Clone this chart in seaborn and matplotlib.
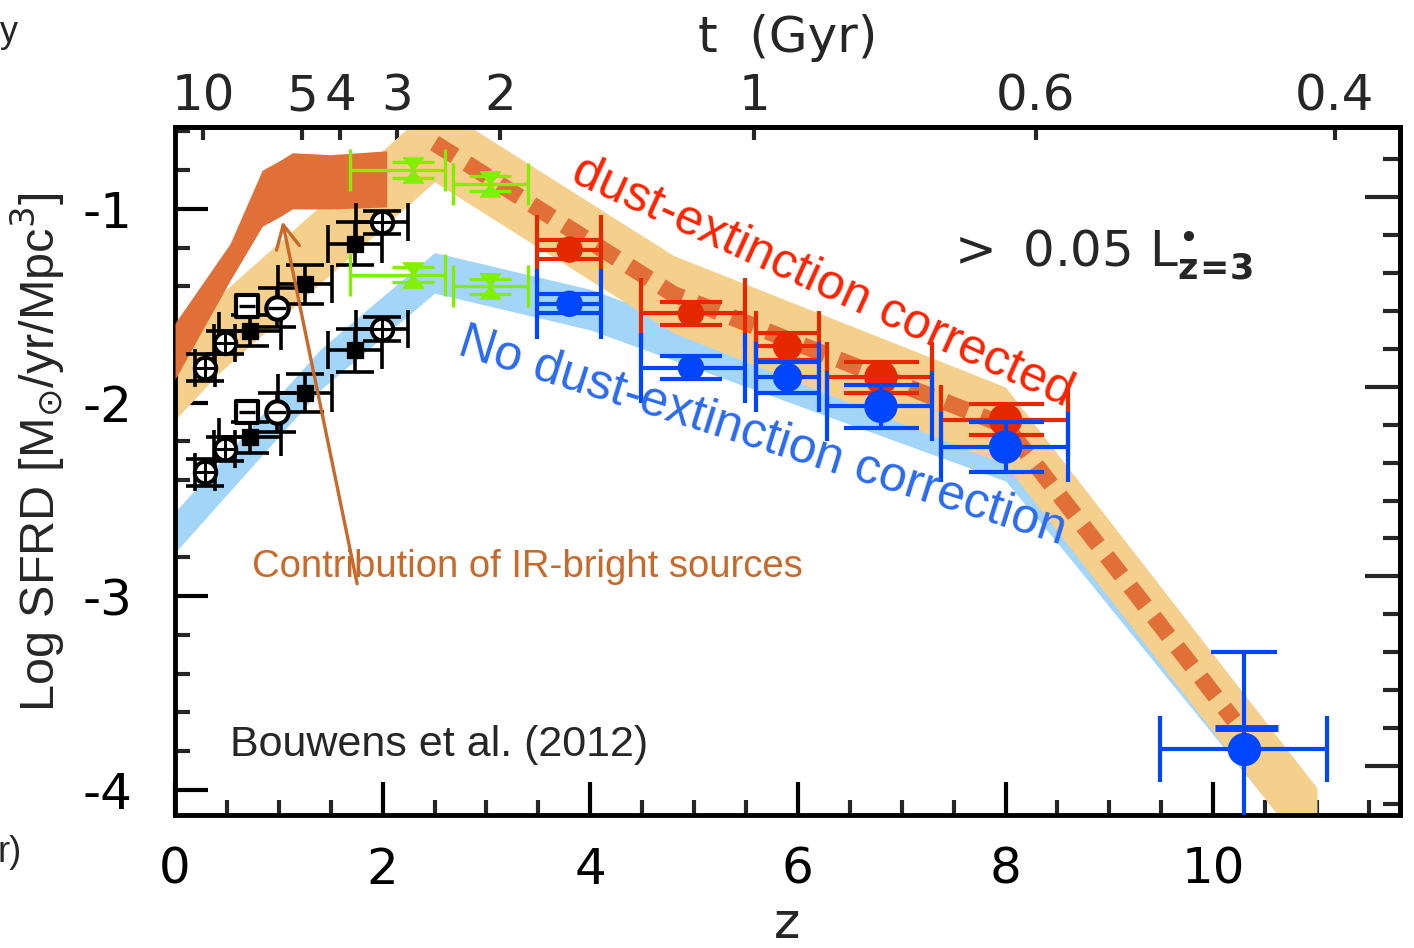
import numpy as np
import pandas as pd
import matplotlib
matplotlib.use("Agg")
import matplotlib.pyplot as plt
import seaborn as sns
from matplotlib.path import Path
from matplotlib.ticker import MultipleLocator

# ---------------- data ----------------
# dust-corrected model band (centre line, vertical half width)
band_dc_z = [0.0, 0.4, 2.5, 4.8, 8.0, 11.0]
band_dc_y = [-1.89, -1.66, -0.66, -1.44, -2.12, -4.19]
band_dc_hw = 0.2
# no-dust-correction band
band_uv_z = [0.0, 1.4, 2.5, 4.0, 8.0, 8.5, 11.0]
band_uv_y = [-2.67, -1.83, -1.33, -1.52, -2.30, -2.62, -4.27]
band_uv_hw = 0.105
# contribution of IR-bright sources
ir_z = [0.0, 0.53, 0.84, 1.01, 1.13, 1.5, 2.04]
ir_upper = [-1.59, -1.18, -0.80, -0.75, -0.71, -0.72, -0.70]
ir_lower = [-1.88, -1.37, -1.09, -1.04, -1.00, -1.00, -0.99]
# dashed model curve
model_z = [2.5, 4.8, 8.0, 10.2]
model_y = [-0.66, -1.44, -2.12, -3.64]

# low-z black points: circle-plus
cp_z = [0.29, 0.48, 1.99]
cp_dc = [-1.82, -1.69, -1.07]
cp_uv = [-2.36, -2.24, -1.62]
cp_xerr = [0.10, 0.10, 0.25]
cp_yerr = [0.07, 0.06, 0.06]
# filled squares
sq_z = [0.72, 1.25, 1.73]
sq_dc = [-1.63, -1.39, -1.18]
sq_uv = [-2.18, -1.95, -1.73]
sq_xerr = [0.30, 0.26, 0.26]
sq_yerr = [0.08, 0.10, 0.11]
# open square with bar, open circle with bar
bx_z = [0.69]
bx_dc = [-1.50]
bx_uv = [-2.05]
rg_z = [0.98]
rg_dc = [-1.51]
rg_uv = [-2.05]
rg_yerr = [0.10]

# green z~2-3 points
gr_z = [2.29, 3.03]
gr_xlo = [0.60, 0.35]
gr_xhi = [0.31, 0.37]
gr_dc = [-0.80, -0.87]
gr_uv = [-1.34, -1.40]
gr_yerr = [0.04, 0.04]

# z>=4 LBG points
lbg_z = [3.8, 4.97, 5.9, 6.8, 8.0]
lbg_xlo = [0.31, 0.48, 0.30, 0.52, 0.62]
lbg_xhi = [0.30, 0.52, 0.30, 0.49, 0.60]
lbg_dc = [-1.21, -1.54, -1.71, -1.87, -2.09]
lbg_dc_err = [0.05, 0.06, 0.07, 0.08, 0.08]
lbg_uv = [-1.49, -1.82, -1.87, -2.02, -2.23]
lbg_uv_err = [0.05, 0.06, 0.08, 0.11, 0.13]
lbg_size = [19, 19, 21, 24, 24]

# z~10 point
z10_z = [10.3]
z10_y = [-3.79]
z10_xlo = [0.81]
z10_xhi = [0.80]
z10_yup = [0.50]
z10_ydn = [0.60]
z10_bar_y = [-3.68]
z10_bar_z0 = [10.02]
z10_bar_z1 = [10.62]

# top axis: cosmic time
t_labels = ["10", "5", "4", "3", "2", "1", "0.6", "0.4"]
t_z = [0.27, 1.22, 1.59, 2.14, 3.13, 5.58, 8.29, 11.17]

# ---------------- style ----------------
sns.set_theme(style="ticks")
plt.rcParams["font.family"] = ["DejaVu Sans"]
plt.rcParams["axes.unicode_minus"] = False

C_LIGHT = "#F5CF8C"
C_DARK = "#E07038"
C_BLUE_BAND = "#A3D5F9"
C_RED = "#E52800"
C_BLUE = "#0045FF"
C_GREEN = "#80F000"
C_BROWN = "#C8692A"

fig = plt.figure(figsize=(14.14, 9.48), dpi=100)
ax = fig.add_axes([175 / 1414, 1 - 815 / 948, 1225 / 1414, 688 / 948])

# bands
bu = pd.DataFrame({"z": band_uv_z, "y": band_uv_y})
ax.fill_between(bu["z"], bu["y"] - band_uv_hw, bu["y"] + band_uv_hw,
                color=C_BLUE_BAND, lw=0, zorder=1)
bd = pd.DataFrame({"z": band_dc_z, "y": band_dc_y})
ax.fill_between(bd["z"], bd["y"] - band_dc_hw, bd["y"] + band_dc_hw,
                color=C_LIGHT, lw=0, zorder=2)
ax.fill_between(ir_z, ir_lower, ir_upper, color=C_DARK, lw=0, zorder=3)

md = pd.DataFrame({"z": model_z, "y": model_y})
sns.lineplot(data=md, x="z", y="y", ax=ax, color=C_DARK, lw=12, sort=False,
             estimator=None, linestyle=(0, (1.45, 0.85)),
             solid_capstyle="butt", dash_capstyle="butt", zorder=4)

# black points
ebk = dict(fmt="none", ecolor="black", elinewidth=2.6, capsize=14, capthick=2.6, zorder=6)
for yy in (cp_dc, cp_uv):
    ax.errorbar(cp_z, yy, xerr=cp_xerr, yerr=cp_yerr, **ebk)
for yy in (sq_dc, sq_uv):
    ax.errorbar(sq_z, yy, xerr=sq_xerr, yerr=sq_yerr, **ebk)
for yy in (rg_dc, rg_uv):
    ax.errorbar(rg_z, yy, yerr=rg_yerr, **ebk)

ptsk = pd.DataFrame({"z": cp_z * 2, "y": cp_dc + cp_uv})
sns.scatterplot(data=ptsk, x="z", y="y", ax=ax, marker="o", s=240,
                facecolor="white", edgecolor="black", linewidth=2.8, zorder=7)
sns.scatterplot(data=ptsk, x="z", y="y", ax=ax, marker="+", s=240,
                color="black", linewidth=2.2, zorder=8)
sqk = pd.DataFrame({"z": sq_z * 2, "y": sq_dc + sq_uv})
sns.scatterplot(data=sqk, x="z", y="y", ax=ax, marker="s", s=130,
                color="black", edgecolor="black", zorder=7)
bxk = pd.DataFrame({"z": bx_z * 2, "y": bx_dc + bx_uv})
sns.scatterplot(data=bxk, x="z", y="y", ax=ax, marker="s", s=230,
                facecolor="white", edgecolor="black", linewidth=3, zorder=7)
sns.scatterplot(data=bxk, x="z", y="y", ax=ax, marker="_", s=130,
                color="black", linewidth=2.4, zorder=8)
rgk = pd.DataFrame({"z": rg_z * 2, "y": rg_dc + rg_uv})
sns.scatterplot(data=rgk, x="z", y="y", ax=ax, marker="o", s=260,
                facecolor="white", edgecolor="black", linewidth=3, zorder=7)
sns.scatterplot(data=rgk, x="z", y="y", ax=ax, marker="_", s=160,
                color="black", linewidth=2.4, zorder=8)

# green points
hourglass = Path([(-0.8, 1), (0.8, 1), (-0.8, -1), (0.8, -1), (-0.8, 1)])
for yy in (gr_dc, gr_uv):
    ax.errorbar(gr_z, yy, xerr=[gr_xlo, gr_xhi], yerr=gr_yerr, fmt="none",
                ecolor=C_GREEN, elinewidth=2.4, capsize=15, capthick=2.4, zorder=6)
grd = pd.DataFrame({"z": gr_z * 2, "y": gr_dc + gr_uv})
sns.scatterplot(data=grd, x="z", y="y", ax=ax, marker=hourglass, s=330,
                color=C_GREEN, edgecolor=C_GREEN, linewidth=1, zorder=7)

# red (dust corrected) and blue (uncorrected) LBG points
def lbg_points(yv, yerr, col, z0):
    ax.errorbar(lbg_z, yv, xerr=[lbg_xlo, lbg_xhi], fmt="none",
                ecolor=col, elinewidth=3, capsize=25, capthick=3, zorder=z0)
    for zz, yy, ee, ms in zip(lbg_z, yv, yerr, lbg_size):
        ax.errorbar([zz], [yy], yerr=[ee], fmt="none", ecolor=col, elinewidth=3,
                    capsize=ms + 3, capthick=3, zorder=z0)
    ax.scatter(lbg_z, yv, s=np.array(lbg_size) ** 2, color=col, lw=0, zorder=z0 + 1)

lbg_points(lbg_dc, lbg_dc_err, C_RED, 9)
lbg_points(lbg_uv, lbg_uv_err, C_BLUE, 11)

ax.errorbar(z10_z, z10_y, xerr=[z10_xlo, z10_xhi], yerr=[z10_ydn, z10_yup], fmt="none",
            ecolor=C_BLUE, elinewidth=3, capsize=24, capthick=3, zorder=11)
ax.hlines(z10_bar_y, z10_bar_z0, z10_bar_z1, color=C_BLUE, lw=5, zorder=11)
ax.scatter(z10_z, z10_y, s=24 ** 2, color=C_BLUE, lw=0, zorder=12)

# axes limits / ticks
ax.set_xlim(0, 11.8)
ax.set_ylim(-4.13, -0.577)
ax.xaxis.set_major_locator(MultipleLocator(2))
ax.xaxis.set_minor_locator(MultipleLocator(0.5))
ax.yaxis.set_major_locator(MultipleLocator(1))
ax.yaxis.set_minor_locator(MultipleLocator(0.2))
ax.tick_params(which="major", direction="in", length=24, width=3, labelsize=36,
               top=False, right=False, colors="black")
ax.tick_params(which="minor", direction="in", length=11, width=3, top=False, right=False)
ax.tick_params(axis="x", which="major", pad=22)
ax.tick_params(axis="y", which="major", pad=31)
for s in ax.spines.values():
    s.set_linewidth(3.5)
    s.set_color("black")
    s.set_visible(True)

secx = ax.secondary_xaxis("top")
secx.set_xticks(t_z, labels=t_labels)
secx.tick_params(direction="in", length=9, width=3, labelsize=36, pad=5)
secx.spines["top"].set_linewidth(3.5)

secy = ax.secondary_yaxis("right", functions=(lambda y: (y + 0.938) / 0.98,
                                              lambda r: r * 0.98 - 0.938))
secy.yaxis.set_major_locator(MultipleLocator(1))
secy.yaxis.set_minor_locator(MultipleLocator(0.2))
secy.tick_params(which="major", direction="in", length=25, width=3, labelright=False)
secy.tick_params(which="minor", direction="in", length=12, width=3, labelright=False)
secy.spines["right"].set_linewidth(3.5)

ax.set_xlabel("z", fontsize=36)
ax.xaxis.label.set_va("center")
ax.xaxis.set_label_coords(0.5, -0.158)
ax.set_ylabel("Log SFRD [M$_{\\odot}$/yr/Mpc$^3$]", fontsize=35,
              family="Liberation Sans")
ax.yaxis.label.set_va("center")
ax.yaxis.set_label_coords(-0.112, 0.528)
ax.text(0.5, 1.129, "t  (Gyr)", transform=ax.transAxes, ha="center", va="center",
        fontsize=36)

# annotations
ax.text(6.24, -1.377, "dust-extinction corrected", color="#FF2200", fontsize=36,
        family="Liberation Sans", rotation=-24.5, rotation_mode="anchor",
        ha="center", va="center", zorder=13)
ax.text(5.66, -2.177, "No dust-extinction correction", color="#2A6AF0", fontsize=36,
        family="Liberation Sans", rotation=-17.5, rotation_mode="anchor",
        ha="center", va="center", zorder=13)
ax.text(7.42, -1.237, "$>$ 0.05 L$^{\\bullet}_{\\mathbf{z\\!=\\!3}}$", fontsize=36,
        ha="left", va="center", zorder=13)
ax.text(0.53, -3.767, "Bouwens et al. (2012)", fontsize=31, family="Liberation Sans",
        ha="left", va="center", zorder=13)
ax.text(0.742, -2.848, "Contribution of IR-bright sources", fontsize=27.5,
        family="Liberation Sans", color=C_BROWN, ha="left", va="center", zorder=13)
ax.annotate("", xy=(1.03, -1.05), xytext=(1.76, -2.95),
            arrowprops=dict(arrowstyle="->", color=C_BROWN, lw=2.4, mutation_scale=42),
            zorder=13)

fig.text(0.0, 0.966, "y", fontsize=26, family="Liberation Sans", ha="left", va="center")
fig.text(-0.002, 0.101, "r)", fontsize=26, family="Liberation Sans", ha="left", va="center")

fig.savefig("out.png", dpi=100)
